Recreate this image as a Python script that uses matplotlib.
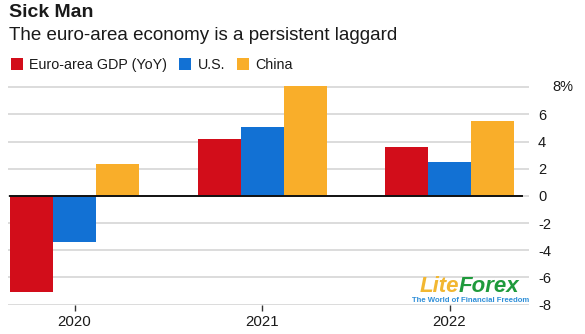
import matplotlib
matplotlib.use("Agg")
import matplotlib.pyplot as plt
import numpy as np
from matplotlib.patches import Patch

plt.rcParams['font.family'] = ['Liberation Sans', 'DejaVu Sans']

# Data
years = ["2020", "2021", "2022"]
series_names = ["Euro-area GDP (YoY)", "U.S.", "China"]
euro = [-7.1, 4.2, 3.6]
us = [-3.4, 5.1, 2.5]
china = [2.35, 8.1, 5.55]
yticks = [-8, -6, -4, -2, 0, 2, 4, 6, 8]
ytick_labels = ["-8", "-6", "-4", "-2", "0", "2", "4", "6", ""]

colors = ["#d20d1a", "#1271d4", "#f9ae2a"]
text_color = "#1a1a1a"

W, H = 585, 334
fig = plt.figure(figsize=(W / 100, H / 100), dpi=100)
ax = fig.add_axes([8 / W, 29.5 / H, 521 / W, (248.7 - 29.5) / H])

x = np.arange(len(years))
bw = 43 / 187.5
for i, (vals, col) in enumerate(zip([euro, us, china], colors)):
    ax.bar(x + (i - 1) * bw, vals, width=bw, color=col, zorder=3, clip_on=False)

ax.set_xlim(-0.3547, 2.424)
ax.set_ylim(-8, 8.15)

ax.axhline(0, xmin=2 / 521, xmax=514 / 521, color="#111111", lw=1.4, zorder=4)

ax.set_yticks(yticks)
ax.set_yticklabels(ytick_labels)
ax.yaxis.tick_right()
ax.grid(axis="y", color="#d6d6d6", lw=1.2, zorder=0)
ax.tick_params(axis="y", length=0, pad=6.5, labelsize=10.5, labelcolor=text_color)
# top label carries the unit and sits a bit further right
ax.text(1 + 23 / 521, 8, "8%", transform=ax.get_yaxis_transform(), ha="left",
        va="center", fontsize=10.5, color=text_color)

ax.set_xticks(x)
ax.set_xticklabels(years)
ax.tick_params(axis="x", length=4.2, width=1, color="#333333", pad=3.5,
               labelsize=10.8, labelcolor=text_color)

for s in ax.spines.values():
    s.set_visible(False)

# Titles
fig.text(9 / W, 1 - 12.7 / H, "Sick Man", fontsize=14, fontweight="bold",
         color=text_color, va="center", ha="left")
fig.text(9 / W, 1 - 35 / H, "The euro-area economy is a persistent laggard",
         fontsize=13.5, color=text_color, va="center", ha="left")

handles = [Patch(facecolor=c, edgecolor="none") for c in colors]
fig.legend(handles, series_names, loc="upper left", bbox_to_anchor=(11 / W, 1 - 58 / H),
           ncol=3, frameon=False, fontsize=10.3, handlelength=0.82, handleheight=0.82,
           handletextpad=0.45, columnspacing=0.85, borderpad=0, borderaxespad=0,
           labelcolor=text_color)

# Watermark
lite = fig.text(420 / W, 1 - 286.5 / H, "Lite", fontsize=16, fontweight="bold",
                style="italic", color="#f2b731", va="center", ha="left")
fig.canvas.draw()
fig.text(0, 0, "Forex", fontsize=16, fontweight="bold", style="italic",
         color="#1f9a3c", va="bottom", ha="left",
         transform=matplotlib.transforms.offset_copy(
             fig.transFigure, fig=fig,
             x=lite.get_window_extent().x1 / 100 * 72 - 1, y=lite.get_window_extent().y0 / 100 * 72,
             units="points"))
fig.text(412 / W, 1 - 301 / H, "The World of Financial Freedom", fontsize=5.6,
         fontweight="bold", color="#2f8fd8", va="center", ha="left")

fig.savefig("out.png", dpi=100)
